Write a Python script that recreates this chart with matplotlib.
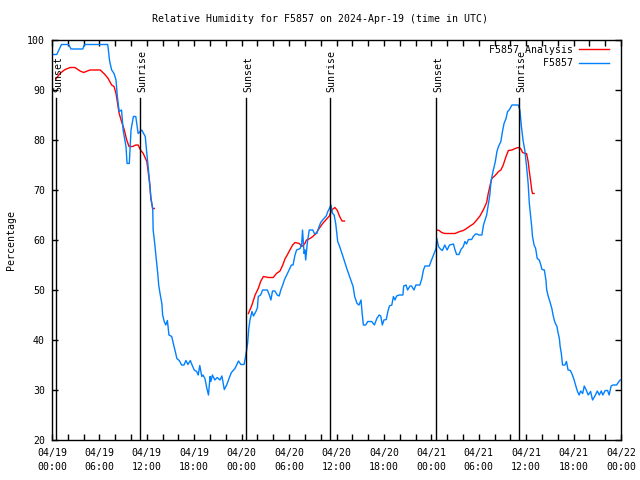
import matplotlib
matplotlib.use("Agg")
import matplotlib.pyplot as plt
import numpy as np

# ---------------- data (hours since 2024-04-19 00:00 UTC) ----------------
obs_hours = [0.17, 0.6, 1.2, 2.1, 2.4, 3.9, 4.1, 7.05, 7.3, 7.55, 7.85, 8.1, 8.27, 8.5, 8.8, 9.0,
             9.36, 9.5, 9.78, 10.0, 10.3, 10.6, 10.9, 11.35, 11.8, 12.0, 12.3, 12.5, 12.75, 12.8,
             12.95, 13.1, 13.25, 13.4, 13.5, 13.67, 13.9, 14.0, 14.2, 14.4, 14.6, 14.8, 15.15,
             15.35, 15.6, 15.8, 16.1, 16.4, 16.7, 16.95, 17.2, 17.5, 17.75, 18.0, 18.3, 18.5,
             18.7, 18.95, 19.1, 19.35, 19.6, 19.8, 20.0, 20.1, 20.3, 20.6, 20.9, 21.25, 21.5,
             21.8, 22.1, 22.4, 22.7, 23.15, 23.6, 23.9, 24.3, 24.45, 24.6, 24.75, 24.9, 25.05,
             25.3, 25.5, 25.8, 26.0, 26.1, 26.4, 26.65, 27.25, 27.5, 27.7, 27.9, 28.2, 28.5,
             28.75, 28.95, 29.2, 29.4, 29.7, 30.0, 30.3, 30.5, 30.75, 30.95, 31.4, 31.6, 31.7,
             31.9, 32.0, 32.1, 32.3, 32.55, 33.0, 33.2, 33.5, 33.8, 34.0, 34.3, 34.7, 34.9,
             35.1, 35.3, 35.5, 35.7, 35.9, 36.15, 36.4, 36.9, 37.3, 37.7, 38.1, 38.3, 38.6,
             38.85, 39.1, 39.25, 39.4, 39.7, 39.95, 40.45, 40.8, 41.1, 41.4, 41.6, 41.8, 42.0,
             42.3, 42.5, 42.7, 43.0, 43.2, 43.4, 43.6, 43.95, 44.4, 44.5, 44.8, 45.0, 45.3,
             45.5, 45.8, 46.05, 46.55, 46.8, 47.0, 47.2, 47.75, 47.95, 48.2, 48.4, 48.6, 48.7,
             48.9, 49.2, 49.4, 49.7, 50.0, 50.3, 50.8, 51.0, 51.2, 51.5, 51.75, 52.05, 52.25,
             52.45, 52.7, 53.1, 53.3, 53.6, 53.8, 54.0, 54.4, 54.6, 54.8, 55.0, 55.2, 55.4,
             55.55, 55.8, 56.1, 56.3, 56.5, 56.8, 57.0, 57.2, 57.45, 57.65, 57.85, 58.2, 59.0,
             59.2, 59.4, 59.6, 59.85, 60.05, 60.25, 60.4, 60.55, 60.7, 60.8, 61.0, 61.2, 61.4,
             61.65, 61.8, 62.0, 62.3, 62.5, 62.6, 62.8, 63.0, 63.25, 63.4, 63.55, 63.7, 63.9,
             64.0, 64.2, 64.3, 64.45, 64.6, 64.9, 65.1, 65.3, 65.6, 65.8, 66.05, 66.3, 66.5,
             66.7, 66.9, 67.15, 67.35, 67.6, 67.85, 68.15, 68.4, 68.7, 69.0, 69.25, 69.5, 69.7,
             70.0, 70.3, 70.5, 70.75, 71.0, 71.45, 71.65, 71.9]
obs_values = [97.1, 97.1, 99.1, 99.1, 98.2, 98.2, 99.1, 99.1, 95.7, 94.0, 93.3, 92.0, 88.7, 85.7,
              86.0, 82.0, 78.7, 75.3, 75.3, 82.0, 84.7, 84.7, 81.3, 82.0, 80.7, 77.3, 72.5, 68.7,
              66.0, 62.0, 60.0, 57.7, 55.3, 53.0, 51.0, 49.3, 47.3, 45.0, 43.7, 43.0, 43.9, 41.0,
              40.7, 39.3, 37.7, 36.3, 35.9, 35.0, 35.0, 35.9, 35.1, 35.9, 34.9, 34.0, 33.7, 33.0,
              34.9, 32.7, 33.0, 32.3, 30.3, 29.0, 32.7, 31.7, 33.0, 32.0, 32.5, 32.0, 32.8, 30.1,
              31.0, 32.3, 33.5, 34.3, 35.8, 35.1, 35.1, 36.3, 37.7, 39.3, 42.3, 44.0, 45.7, 44.8,
              45.7, 46.5, 48.7, 49.0, 50.0, 50.0, 49.0, 48.0, 49.8, 49.8, 49.0, 48.8, 50.0, 51.0,
              52.0, 53.0, 54.0, 55.0, 55.0, 57.0, 58.0, 58.3, 59.3, 62.0, 57.3, 58.0, 56.0, 59.3,
              62.0, 62.0, 61.3, 61.3, 62.7, 63.5, 64.1, 64.8, 65.7, 66.3, 67.0, 65.3, 65.0, 63.3,
              59.7, 58.7, 56.3, 54.3, 52.5, 50.7, 48.7, 47.3, 47.0, 48.0, 45.3, 43.0, 43.0, 43.7,
              43.7, 43.0, 44.3, 45.0, 44.8, 43.0, 44.0, 44.1, 45.7, 46.8, 47.0, 48.7, 48.0, 48.8,
              49.0, 49.0, 50.8, 51.0, 50.0, 50.8, 50.8, 50.0, 51.0, 51.0, 52.3, 54.0, 54.8, 54.8,
              55.7, 56.7, 57.5, 58.3, 60.3, 58.7, 58.1, 57.9, 59.0, 58.0, 59.0, 59.2, 58.0, 57.1,
              57.1, 58.1, 58.7, 59.7, 59.2, 60.1, 60.1, 60.7, 61.2, 61.2, 61.0, 61.0, 63.0, 64.0,
              65.0, 67.0, 69.0, 71.7, 73.7, 75.7, 77.7, 78.7, 79.7, 81.7, 83.3, 84.3, 85.7, 86.0,
              87.0, 87.0, 86.0, 82.7, 80.0, 77.7, 74.7, 71.3, 67.3, 65.0, 62.7, 60.7, 59.0, 58.3,
              56.3, 56.0, 55.3, 54.1, 54.0, 52.0, 50.0, 48.7, 47.7, 46.3, 45.0, 44.0, 43.3, 42.7,
              41.7, 40.3, 38.7, 37.3, 35.0, 35.0, 35.7, 34.0, 33.9, 33.2, 32.1, 30.7, 29.7, 29.0,
              29.8, 29.3, 30.8, 30.0, 29.0, 29.7, 28.0, 28.8, 29.8, 29.0, 29.8, 29.0, 29.9, 29.9,
              29.0, 30.8, 31.0, 31.0, 31.5, 32.0]

# analysis series: three separate segments (NaN separates them)
ana_hours = [0.5, 1.0, 1.65, 2.3, 2.9, 3.55, 4.0, 4.8, 6.1, 6.7, 7.1, 7.55, 7.85, 8.1, 8.3, 8.5,
             8.8, 9.15, 9.45, 9.75, 10.2, 10.6, 10.9, 11.2, 11.55, 12.0, 12.2, 12.4, 12.5, 12.75,
             12.95, 13.0,
             24.85, 25.3, 25.7, 26.1, 26.4, 26.75, 27.4, 28.0, 28.4, 28.85, 29.2, 29.5, 29.7,
             30.1, 30.45, 30.75, 31.3, 31.6, 32.0, 32.2, 32.65, 33.0, 33.4, 33.8, 34.25, 34.7,
             35.1, 35.4, 35.8, 36.1, 36.4, 36.7, 37.0, 37.05,
             48.7, 49.0, 49.3, 49.7, 51.0, 51.6, 52.05, 52.45, 52.9, 53.3, 53.7, 54.15, 54.6,
             55.0, 55.2, 55.4, 55.65, 56.0, 56.3, 56.5, 56.8, 57.1, 57.45, 57.75, 58.2, 58.6,
             59.0, 59.3, 59.55, 59.85, 60.05, 60.25, 60.4, 60.55, 60.7, 60.8, 61.0]
ana_values = [92.2, 93.3, 94.1, 94.5, 94.5, 93.8, 93.5, 94.0, 94.0, 93.1, 92.3, 91.0, 90.7, 89.3,
              87.3, 85.3, 83.7, 82.0, 80.0, 78.7, 78.7, 79.0, 79.0, 78.0, 77.3, 75.7, 73.3, 70.7,
              68.3, 66.3, 66.3, np.nan,
              45.3, 47.0, 49.0, 50.3, 51.7, 52.7, 52.5, 52.5, 53.3, 53.8, 55.0, 56.3, 56.8, 58.0,
              59.0, 59.5, 59.3, 58.7, 59.3, 60.0, 60.3, 60.7, 61.3, 62.3, 63.3, 64.1, 64.8, 66.0,
              66.5, 65.9, 64.7, 63.8, 63.8, np.nan,
              62.0, 61.9, 61.5, 61.3, 61.3, 61.7, 61.9, 62.3, 62.8, 63.2, 63.9, 64.8, 66.1, 67.5,
              69.3, 70.7, 72.3, 72.8, 73.3, 73.7, 74.0, 75.0, 76.7, 77.9, 78.0, 78.3, 78.5, 78.3,
              77.5, 77.3, 77.3, 75.7, 73.7, 72.0, 70.0, 69.3, 69.3]

event_labels = ["Sunset", "Sunrise", "Sunset", "Sunrise", "Sunset", "Sunrise"]
event_hours = [0.55, 11.15, 24.6, 35.15, 48.62, 59.1]

tick_hours = [0, 6, 12, 18, 24, 30, 36, 42, 48, 54, 60, 66, 72]
tick_labels = ["04/19\n00:00", "04/19\n06:00", "04/19\n12:00", "04/19\n18:00",
               "04/20\n00:00", "04/20\n06:00", "04/20\n12:00", "04/20\n18:00",
               "04/21\n00:00", "04/21\n06:00", "04/21\n12:00", "04/21\n18:00",
               "04/22\n00:00"]

series_names = ["F5857 Analysis", "F5857"]
title = "Relative Humidity for F5857 on 2024-Apr-19 (time in UTC)"
ylabel = "Percentage"

# ---------------- plotting ----------------
FS = 7.15
plt.rcParams["font.family"] = ["DejaVu Sans Mono"]
plt.rcParams["font.size"] = FS

fig = plt.figure(figsize=(6.4, 4.8), dpi=100)
ax = fig.add_axes([52 / 640, 40 / 480, 569 / 640, 400 / 480])

RED = "#ff0000"
BLUE = "#0080ff"

ax.plot(ana_hours, ana_values, color=RED, lw=1.0, label=f"{series_names[0]:>14}")
ax.plot(obs_hours, obs_values, color=BLUE, lw=1.0, label=f"{series_names[1]:>14}")

for name, h in zip(event_labels, event_hours):
    ax.plot([h, h], [20, 88.4], color="black", lw=1.0)
    ax.annotate(name, xy=(h, 89.6), xytext=(1.5, 0), textcoords="offset points",
                rotation=90, ha="center", va="bottom", fontsize=FS)

ax.set_xlim(0, 72)
ax.set_ylim(20, 100)
ax.set_xticks(tick_hours)
ax.set_xticklabels(tick_labels, linespacing=1.45)
ax.set_xticks(np.arange(0, 73, 2), minor=True)
ax.set_yticks(np.arange(20, 101, 10))

ax.tick_params(which="both", direction="in", top=True, right=True, length=4, width=1)
ax.tick_params(axis="x", which="major", pad=6)
ax.tick_params(axis="y", which="major", pad=5)
for s in ax.spines.values():
    s.set_linewidth(1)

ax.set_ylabel(ylabel, labelpad=8)
fig.text(0.5, 1 - 19 / 480, title, ha="center", va="center", fontsize=FS)

leg = ax.legend(loc="upper right", bbox_to_anchor=(1 - 7 / 569, 1), frameon=False,
                markerfirst=False, handlelength=3.0, handletextpad=0.6, labelspacing=0.35,
                borderaxespad=0.3, borderpad=0.2, fontsize=FS)

fig.savefig("out.png", dpi=100)
